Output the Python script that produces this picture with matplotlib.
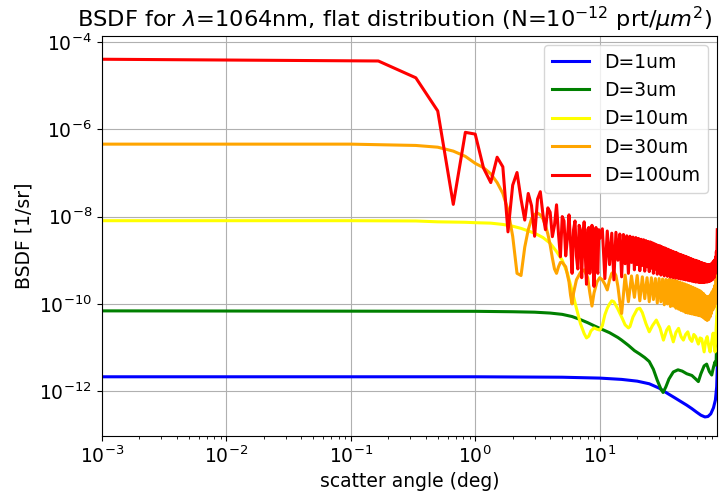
import numpy as np
import matplotlib
matplotlib.use("Agg")
import matplotlib.pyplot as plt
from matplotlib.ticker import LogLocator, NullLocator

# values are log10(BSDF), angles in deg
labels = ["D=1um", "D=3um", "D=10um", "D=30um", "D=100um"]
colors = ["blue", "green", "yellow", "orange", "red"]

blue_ang = [0.001, 1.0, 5.0, 10.0, 15.0, 20.0, 25.0, 30.0, 35.0, 40.0, 45.0, 50.0,
            55.0, 60.0, 65.0, 70.0, 74.0, 78.0, 82.0, 85.0, 87.0, 88.0]
blue_log = [-11.67, -11.67, -11.68, -11.70, -11.73, -11.77, -11.83, -11.93, -12.05, -12.15,
            -12.24, -12.32, -12.40, -12.48, -12.55, -12.59, -12.58, -12.52, -12.38, -12.20,
            -11.90, -11.45]

green_ang = [0.001, 1.0, 2.0, 3.0, 4.0, 5.0, 6.0, 7.0, 8.0, 9.0, 10.0, 12.0, 14.0, 15.0,
             17.0, 19.0, 21.0, 23.0, 25.0, 27.0, 29.0, 31.0, 32.3, 34.0, 36.0, 39.0, 42.5,
             46.0, 50.0, 55.0, 59.0, 62.0, 65.0, 69.0, 72.3, 76.0, 79.4, 82.0, 84.3, 86.0, 88.0]
green_log = [-10.16, -10.17, -10.18, -10.19, -10.21, -10.24, -10.29, -10.36, -10.43, -10.50,
             -10.56, -10.66, -10.77, -10.83, -10.95, -11.07, -11.15, -11.23, -11.32, -11.50,
             -11.75, -11.95, -12.03, -11.90, -11.72, -11.56, -11.51, -11.54, -11.60, -11.64,
             -11.72, -11.78, -11.60, -11.42, -11.38, -11.55, -11.63, -11.45, -11.33, -11.40,
             -10.30]

yellow_ang = [0.001, 0.1, 0.333, 0.5, 0.833, 1.0, 1.333, 1.667, 2.0, 2.333, 3.0, 3.5, 4.0,
              4.5, 5.0, 5.5, 6.0, 6.5, 7.0, 7.5, 7.833, 8.167, 8.5, 9.0, 9.5, 10.0, 10.5,
              11.0, 11.5, 12.0, 12.5, 13.0, 14.0, 15.0, 16.0, 17.0, 17.5, 18.5, 20.0, 21.0,
              22.0, 23.5, 25.0, 26.5, 28.5, 30.5, 32.5, 34.5, 36.0, 37.5, 39.0, 41.0, 43.0,
              45.0, 47.0, 49.0, 51.0, 53.0, 55.0, 57.0, 59.0, 62.0, 64.0, 66.0, 69.0, 71.0,
              73.0, 75.0, 77.0, 79.0, 81.5, 83.0, 84.5, 86.0, 88.0]
yellow_log = [-8.094, -8.094, -8.10, -8.12, -8.13, -8.14, -8.15, -8.18, -8.22, -8.27, -8.38,
              -8.48, -8.61, -8.80, -9.00, -9.30, -9.70, -10.10, -10.45, -10.68, -10.78, -10.74,
              -10.62, -10.55, -10.58, -10.60, -10.50, -10.25, -10.10, -10.00, -9.93, -9.95,
              -10.12, -10.30, -10.48, -10.55, -10.52, -10.30, -10.12, -10.10, -10.20, -10.45,
              -10.64, -10.50, -10.37, -10.55, -10.83, -10.60, -10.52, -10.70, -10.87, -10.65,
              -10.56, -10.75, -10.83, -10.70, -10.64, -10.80, -10.86, -10.70, -10.75, -10.92,
              -10.78, -10.80, -11.10, -10.85, -10.75, -10.95, -11.10, -10.90, -10.67, -10.90,
              -11.10, -10.60, -10.06]

orange_ang = [0.001, 0.1, 0.333, 0.5, 0.667, 0.833, 1.0, 1.167, 1.333, 1.5, 1.667, 1.833,
              2.0, 2.167, 2.333, 2.5, 2.667, 2.833, 3.0, 3.167, 3.333, 3.5, 3.667, 3.833,
              4.0, 4.167, 4.333, 4.5, 4.667, 4.833, 5.0, 5.333, 5.667, 5.833, 6.0, 6.167,
              6.5, 7.0, 7.5, 8.0, 8.333, 8.667, 9.0, 9.5, 10.0, 10.5, 11.0, 11.5, 12.0,
              12.5, 13.0, 13.5, 14.0, 14.5, 15.0, 15.5]
orange_log = [-6.34, -6.34, -6.37, -6.41, -6.50, -6.62, -6.78, -6.88, -7.02, -7.22, -7.47,
              -7.85, -8.45, -9.30, -9.35, -8.70, -8.30, -8.05, -7.95, -7.92, -7.96, -8.05,
              -8.20, -8.40, -8.65, -8.95, -9.20, -9.30, -9.15, -9.05, -9.05, -9.15, -9.50,
              -9.80, -10.00, -9.75, -9.45, -9.28, -9.22, -9.40, -9.75, -10.05, -9.75, -9.50,
              -9.40, -9.45, -9.55, -9.68, -9.45, -9.30, -9.26, -9.35, -9.60, -9.95, -10.22,
              -9.80]
# dense oscillation beyond 16 deg: peaks at 16,18,..,86 and dips at 17,19,..,87
orange_peaks = [-9.34, -9.36, -9.35, -9.38, -9.40, -9.40, -9.42, -9.42, -9.43, -9.44, -9.44,
                -9.45, -9.46, -9.48, -9.50, -9.52, -9.54, -9.56, -9.58, -9.60, -9.62, -9.64,
                -9.66, -9.68, -9.70, -9.73, -9.76, -9.80, -9.83, -9.84, -9.82, -9.78, -9.72,
                -9.66, -9.58, -9.45]
orange_dips = [-9.95, -9.85, -9.93, -9.88, -9.95, -9.90, -9.98, -9.95, -10.02, -10.00, -10.06,
               -10.05, -10.10, -10.12, -10.15, -10.17, -10.20, -10.21, -10.22, -10.23, -10.24,
               -10.25, -10.26, -10.27, -10.28, -10.30, -10.33, -10.36, -10.38, -10.36, -10.30,
               -10.22, -10.14, -10.08, -10.00, -9.75]
orange_end = -9.15

# D=100um sampled every 1/6 deg up to 10 deg
red_log = [-4.395, -4.435, -4.82, -5.58, -7.72, -6.07, -6.11, -6.89, -7.22, -6.64, -6.86,
           -8.35, -7.28, -6.99,
           -7.60, -8.08, -7.47, -7.75, -8.45,
           -7.60, -7.43, -7.95, -8.30, -7.80, -7.90,
           -8.46, -8.20, -7.73, -8.40, -8.92, -8.00,
           -8.10, -8.90, -8.50, -7.96, -8.60, -9.30,
           -8.30, -8.10, -8.90, -9.20, -8.20, -8.30,
           -9.40, -8.50, -8.12, -8.90, -9.55, -8.30,
           -8.25, -9.30, -9.00, -8.20, -8.60, -9.60,
           -8.40, -8.25, -9.20, -9.30, -8.30, -8.50]
# beyond 10 deg: peaks at 10.5,11.5,..,87.5 and dips at 11,12,..,88
red_peaks = [-8.28, -8.33, -8.38, -8.36, -8.40, -8.41, -8.44, -8.45, -8.47, -8.48,
             -8.50, -8.52, -8.53, -8.55, -8.57, -8.58, -8.60, -8.62, -8.64, -8.66,
             -8.67, -8.69, -8.71, -8.72, -8.74, -8.75, -8.77, -8.78, -8.80, -8.81,
             -8.82, -8.83, -8.85, -8.86, -8.87, -8.88, -8.89, -8.90, -8.91, -8.92,
             -8.93, -8.94, -8.95, -8.96, -8.97, -8.98, -8.99, -9.00, -9.00, -9.01,
             -9.02, -9.02, -9.03, -9.04, -9.05, -9.06, -9.06, -9.07, -9.08, -9.08,
             -9.09, -9.09, -9.10, -9.10, -9.11, -9.11, -9.11, -9.10, -9.09, -9.07,
             -9.06, -9.04, -9.02, -9.00, -8.98, -8.92, -8.80, -8.60]
red_dips = [-9.42, -9.10, -9.45, -9.00, -9.38, -9.08, -9.30, -9.05, -9.22, -9.10,
            -9.24, -9.12, -9.25, -9.15, -9.26, -9.18, -9.30, -9.20, -9.32, -9.24,
            -9.34, -9.27, -9.36, -9.29, -9.37, -9.31, -9.39, -9.33, -9.40, -9.34,
            -9.41, -9.36, -9.42, -9.37, -9.43, -9.38, -9.44, -9.39, -9.45, -9.40,
            -9.46, -9.41, -9.47, -9.42, -9.48, -9.43, -9.49, -9.44, -9.50, -9.45,
            -9.50, -9.46, -9.51, -9.46, -9.51, -9.47, -9.51, -9.47, -9.51, -9.47,
            -9.50, -9.47, -9.50, -9.46, -9.49, -9.45, -9.48, -9.44, -9.46, -9.42,
            -9.44, -9.38, -9.40, -9.32, -9.30, -9.22, -9.05, -8.30]


def zigzag(x0, step, peaks, dips):
    xs, ys = [], []
    for i in range(len(peaks)):
        xs += [x0 + i * 2 * step, x0 + (2 * i + 1) * step]
        ys += [peaks[i], dips[i]]
    return xs, ys


red_x = [0.001] + [k / 6 for k in range(1, len(red_log))]
bx, by = zigzag(10.5, 0.5, red_peaks, red_dips)
red_x = red_x + bx
red_y = red_log + by

ox, oy = zigzag(16.0, 1.0, orange_peaks, orange_dips)
orange_x = orange_ang + ox + [88.0]
orange_y = orange_log + oy + [orange_end]

series = [(blue_ang, blue_log), (green_ang, green_log), (yellow_ang, yellow_log),
          (orange_x, orange_y), (red_x, red_y)]

fig = plt.figure(figsize=(7.23, 4.94), dpi=100)
ax = fig.add_axes([0.1407, 0.118, 0.8514, 0.8097])
for (x, y), c, lab in zip(series, colors, labels):
    ax.plot(x, 10.0 ** np.array(y), color=c, lw=2.2, label=lab)

ax.set_xscale("log")
ax.set_yscale("log")
ax.set_xlim(1e-3, 88)
ax.set_ylim(10 ** -13.02, 10 ** -3.856)
ax.yaxis.set_major_locator(LogLocator(base=10, subs=[1.0], numticks=6))
ax.yaxis.set_minor_locator(NullLocator())
ax.grid(True, which="major", color="#b0b0b0", lw=0.8)
ax.tick_params(labelsize=13.5)
ax.set_xlabel("scatter angle (deg)", fontsize=13.5)
ax.set_ylabel("BSDF [1/sr]", fontsize=13.5)
ax.set_title(r"BSDF for $\lambda$=1064nm, flat distribution (N=$10^{-12}$ prt/$\mu m^2$)",
             fontsize=16.2, x=0.476)
ax.legend(loc="upper right", fontsize=13.5)

fig.savefig("out.png", dpi=100)
